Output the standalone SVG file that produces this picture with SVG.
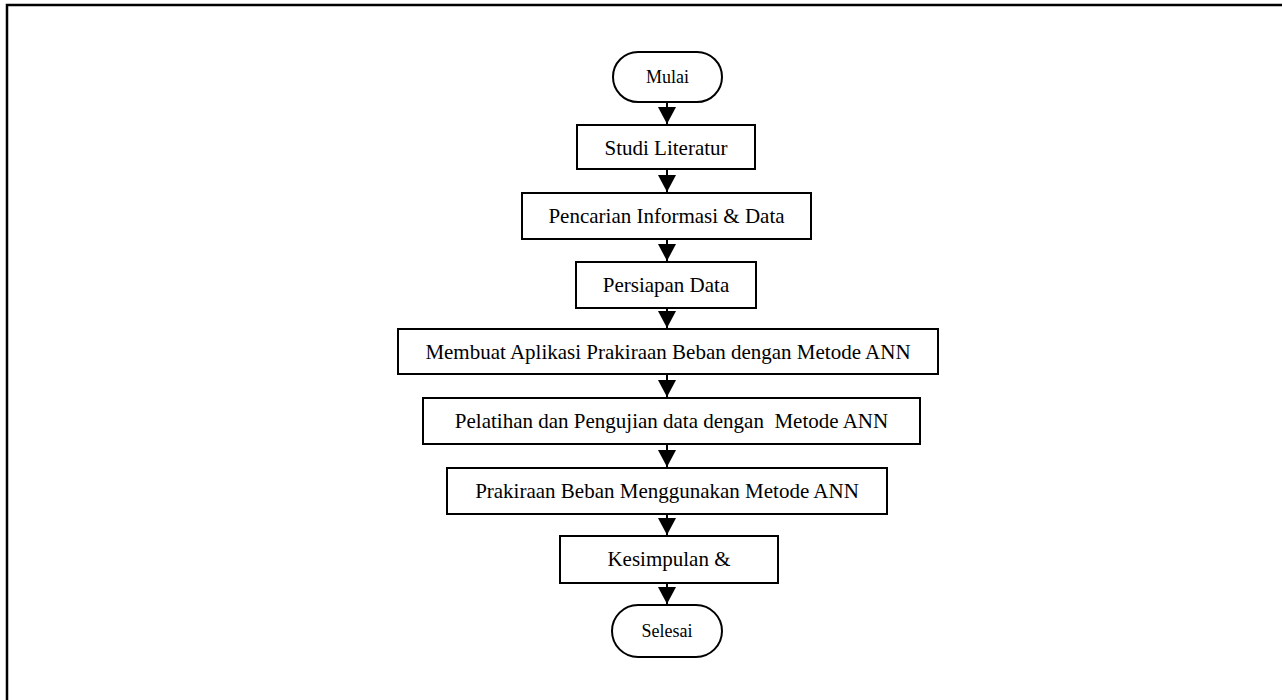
<svg xmlns="http://www.w3.org/2000/svg" width="1282" height="700" viewBox="0 0 1282 700">
<defs>
<style>
.box{fill:#fff;stroke:#000;stroke-width:2}
.t{font-family:"Liberation Serif","Times New Roman",serif;font-size:21px;fill:#000;text-anchor:middle;white-space:pre}
.ts{font-family:"Liberation Serif","Times New Roman",serif;font-size:18px;fill:#000;text-anchor:middle}
.c{stroke:#000;stroke-width:2;fill:none;marker-end:url(#ah)}
</style>
<marker id="ah" markerUnits="userSpaceOnUse" markerWidth="17" markerHeight="18" viewBox="0 0 17 18" refX="17" refY="9" orient="auto">
<path d="M0,0 L17,9 L0,18 Z" fill="#000"/>
</marker>
</defs>
<rect width="1282" height="700" fill="#fff"/>
<path d="M7,702 V5 H1284" fill="none" stroke="#000" stroke-width="2.5"/>
<g id="connectors">
<line class="c" x1="667" y1="102" x2="667" y2="124"/>
<line class="c" x1="667" y1="169" x2="667" y2="192"/>
<line class="c" x1="667" y1="239" x2="667" y2="261"/>
<line class="c" x1="667" y1="308" x2="667" y2="328"/>
<line class="c" x1="667" y1="374" x2="667" y2="397"/>
<line class="c" x1="667" y1="444" x2="667" y2="467"/>
<line class="c" x1="667" y1="514" x2="667" y2="535"/>
<line class="c" x1="667" y1="583" x2="667" y2="604"/>
</g>
<g id="mulai">
<rect class="box" x="613" y="52" width="109" height="50" rx="25"/>
<text class="ts" x="667.5" y="83">Mulai</text>
</g>
<g id="studi">
<rect class="box" x="577" y="125" width="178" height="44"/>
<text class="t" x="666" y="155">Studi Literatur</text>
</g>
<g id="pencarian">
<rect class="box" x="522" y="193" width="289" height="46"/>
<text class="t" x="666.5" y="223">Pencarian Informasi &amp; Data</text>
</g>
<g id="persiapan">
<rect class="box" x="576" y="262" width="180" height="46"/>
<text class="t" x="666" y="292">Persiapan Data</text>
</g>
<g id="membuat">
<rect class="box" x="398" y="329" width="540" height="45"/>
<text class="t" x="668" y="359">Membuat Aplikasi Prakiraan Beban dengan Metode ANN</text>
</g>
<g id="pelatihan">
<rect class="box" x="423" y="398" width="497" height="46"/>
<text class="t" x="671.5" y="428">Pelatihan dan Pengujian data dengan  Metode ANN</text>
</g>
<g id="prakiraan">
<rect class="box" x="447" y="468" width="440" height="46"/>
<text class="t" x="667" y="498">Prakiraan Beban Menggunakan Metode ANN</text>
</g>
<g id="kesimpulan">
<rect class="box" x="560" y="536" width="218" height="47"/>
<text class="t" x="669" y="566">Kesimpulan &amp;</text>
</g>
<g id="selesai">
<rect class="box" x="612" y="605" width="110" height="52" rx="26"/>
<text class="ts" x="667" y="637">Selesai</text>
</g>
</svg>
